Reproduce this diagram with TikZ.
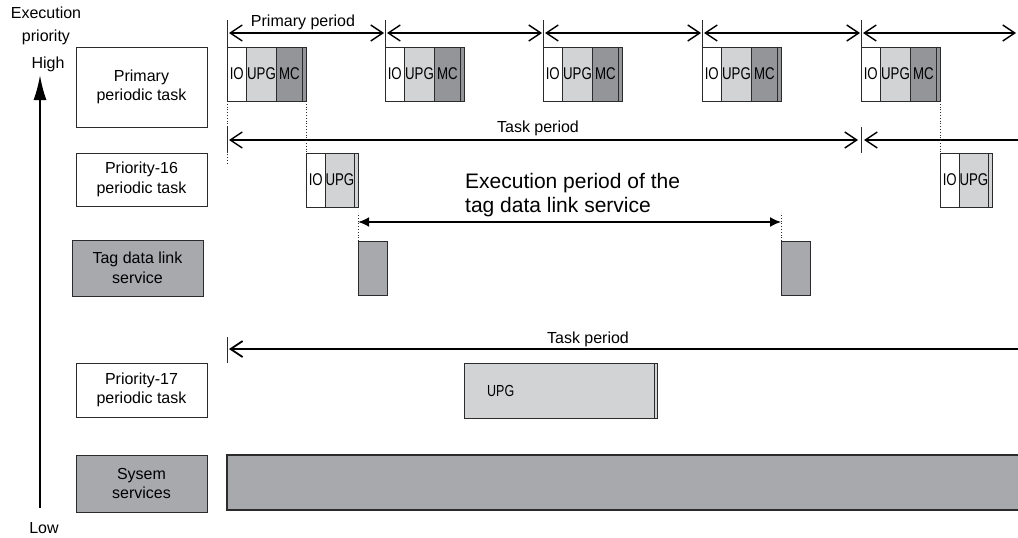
\documentclass[tikz,border=0pt]{standalone}
\usepackage{graphicx}
\usepackage{fontspec}
\setmainfont{Liberation Sans}
\usetikzlibrary{arrows.meta}
\definecolor{edge}{HTML}{2B2B2B}
\definecolor{lightg}{HTML}{D1D3D4}
\definecolor{midg}{HTML}{939598}
\definecolor{boxg}{HTML}{A7A9AC}
\newcommand{\cond}[1]{\scalebox{0.78}[1]{#1}}
\begin{document}
\begin{tikzpicture}[x=1pt,y=-1pt,
  lbl/.style={draw=edge,line width=0.9pt,align=center,inner sep=0pt,outer sep=0pt,anchor=north west,
    font=\fontsize{16}{19.5}\selectfont},
  seg/.style={draw=edge,line width=0.9pt,inner sep=0pt,outer sep=0pt,anchor=north west,
    font=\fontsize{17}{19}\selectfont},
  txt/.style={inner sep=0pt,font=\fontsize{16}{19}\selectfont},
  barb/.style={line width=1.4pt,draw=black,
    {Straight Barb[length=12pt,width=16pt]}-{Straight Barb[length=12pt,width=16pt]}},
  lbarb/.style={line width=1.4pt,draw=black,{Straight Barb[length=12pt,width=16pt]}-},
  tickline/.style={line width=0.8pt,draw=edge},
  dotline/.style={line width=0.8pt,draw=edge,dotted},
  fillarrow/.style={line width=1.4pt,draw=black,{Latex[length=11pt,width=10pt]}-{Latex[length=11pt,width=10pt]}}
]
\useasboundingbox (0,0) rectangle (1018,538);

% priority axis
\coordinate (axlow) at (40,508);
\coordinate (axhigh) at (40,75);
\draw[line width=2pt,-{Latex[length=25pt,width=13pt]}] (axlow) -- (axhigh);
\node[txt] (exlbl) at (46,13) {Execution};
\node[txt] (prlbl) at (46,37) {priority};
\node[txt] (high) at (48,64) {High};
\node[txt] (low) at (44,528) {Low};

% row labels
\node[lbl,minimum width=131pt,minimum height=80pt] (lp) at (76,47) {Primary\\periodic task};
\node[lbl,minimum width=131pt,minimum height=53pt] (l16) at (76,153) {Priority-16\\periodic task};
\node[lbl,fill=boxg,minimum width=131pt,minimum height=56pt] (ltag) at (72,240) {Tag data link\\service};
\node[lbl,minimum width=131pt,minimum height=54pt] (l17) at (76,363) {Priority-17\\periodic task};
\node[lbl,fill=boxg,minimum width=131pt,minimum height=57pt] (lsys) at (76,455) {Sysem\\services};

% primary periodic task blocks
\foreach \i/\x in {1/227,2/385,3/543,4/702,5/861} {
  \node[seg,fill=white,minimum width=19.5pt,minimum height=54pt] (pio\i) at (\x,47) {\cond{IO}};
  \node[seg,fill=lightg,minimum width=30pt,minimum height=54pt] (pupg\i) at (pio\i.north east) {\cond{UPG}};
  \node[seg,fill=midg,minimum width=26pt,minimum height=54pt] (pmc\i) at (pupg\i.north east) {\cond{MC}};
  \node[seg,fill=midg,minimum width=3.5pt,minimum height=54pt] (pend\i) at (pmc\i.north east) {};
  \coordinate (t\i) at (\x,33);
  \draw[tickline] (pio\i.north west) -- ++(0,-27);
}
\coordinate (tend) at (1016,33);
\draw[barb,shorten <=2pt,shorten >=1pt] (t1) -- (t2);
\draw[barb,shorten <=2pt,shorten >=1pt] (t2) -- (t3);
\draw[barb,shorten <=2pt,shorten >=1pt] (t3) -- (t4);
\draw[barb,shorten <=2pt,shorten >=1pt] (t4) -- (t5);
\draw[barb,shorten <=2pt] (t5) -- (tend);
\node[txt] (pplbl) at (303,22) {Primary period};

% task period (priority-16)
\coordinate (tp1) at (227,140);
\coordinate (tp2) at (861,140);
\coordinate (tpend) at (1020,140);
\draw[dotline] (pio1.south west) -- ++(0,63);
\draw[tickline] (tp1) ++(0,-13) -- ++(0,26);
\draw[tickline] (tp2) ++(0,-13) -- ++(0,26);
\draw[barb,shorten <=2pt,shorten >=3pt] (tp1) -- (tp2);
\draw[lbarb,shorten <=3pt] (tp2) -- (tpend);
\node[txt] (tplbl) at (538,128) {Task period};

% priority-16 blocks
\foreach \i/\src in {1/1,2/5} {
  \node[seg,fill=white,minimum width=19.5pt,minimum height=54pt] (qio\i) at (pend\src.south east |- 0,153) {\cond{IO}};
  \node[seg,fill=lightg,minimum width=26pt,minimum height=54pt] (qupg\i) at (qio\i.north east) {\cond{UPG}};
  \node[seg,fill=lightg,minimum width=4pt,minimum height=54pt] (qend\i) at (qupg\i.north east) {};
  \draw[dotline] (pend\src.south east) -- (qio\i.north west);
}

% tag data link service
\node[seg,fill=boxg,minimum width=29pt,minimum height=54pt] (tag1) at (qend1.south east |- 0,241) {};
\node[seg,fill=boxg,minimum width=29pt,minimum height=54pt] (tag2) at (781,241) {};
\draw[dotline] (tag1.north west) -- ++(0,-28);
\draw[dotline] (tag2.north west) -- ++(0,-28);
\coordinate (e1) at (tag1.north west |- 0,222);
\coordinate (e2) at (tag2.north west |- 0,222);
\draw[fillarrow] (e1) -- (e2);
\node[anchor=base west,align=left,inner sep=0pt,font=\fontsize{21}{24}\selectfont] (exec) at (465,212)
  {Execution period of the\\tag data link service};

% task period (priority-17)
\coordinate (tq1) at (227,349);
\coordinate (tqend) at (1020,349);
\draw[tickline] (tq1) ++(0,-12) -- ++(0,26);
\draw[line width=1.8pt,{Straight Barb[length=12pt,width=16pt]}-,shorten <=2pt] (tq1) -- (tqend);
\node[txt] (tq lbl) at (588,339) {Task period};

\node[seg,fill=lightg,minimum width=190pt,minimum height=55pt] (u17) at (464,363) {};
\node[seg,fill=lightg,minimum width=3.5pt,minimum height=55pt] (u17end) at (u17.north east) {};
\node[txt,anchor=west] (u17lbl) at ([xshift=23pt]u17.west) {\cond{UPG}};

% system services bar
\node[seg,fill=boxg,line width=1.2pt,minimum width=800pt,minimum height=55pt] (sysbar) at (227,455) {};
\end{tikzpicture}
\end{document}
